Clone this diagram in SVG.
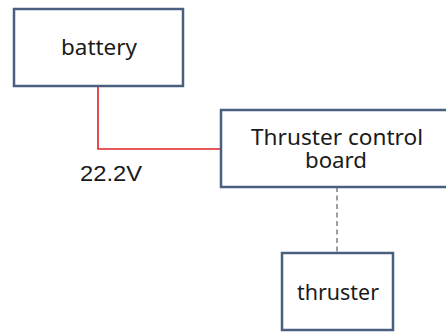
<svg xmlns="http://www.w3.org/2000/svg" width="446" height="335" viewBox="0 0 446 335">
<style>
.box{fill:#ffffff;stroke:#4a5f80;stroke-width:2.5}
.lbl{font-family:"Noto Sans","Open Sans",sans-serif;font-size:22px;fill:#1a1a1a;text-anchor:middle}
.v{font-family:"Liberation Sans",Arial,sans-serif;font-size:22px;fill:#1a1a1a}
</style>
<rect width="446" height="335" fill="#ffffff"/>
<g id="connectors">
<polyline points="98,86 98,149 221,149" fill="none" stroke="#e02424" stroke-width="1.6"/>
<line x1="337" y1="187" x2="337" y2="253" stroke="#7f7f7f" stroke-width="1.5" stroke-dasharray="5,3.5"/>
<text class="v" x="80" y="181" textLength="62" lengthAdjust="spacingAndGlyphs">22.2V</text>
</g>
<g id="battery">
<rect class="box" x="14" y="9" width="169" height="77"/>
<text class="lbl" x="99" y="55" textLength="76" lengthAdjust="spacingAndGlyphs">battery</text>
</g>
<g id="board">
<rect class="box" x="221" y="110" width="240" height="77"/>
<text class="lbl" x="337" y="145" textLength="172" lengthAdjust="spacingAndGlyphs">Thruster control</text>
<text class="lbl" x="336" y="168" textLength="62" lengthAdjust="spacingAndGlyphs">board</text>
</g>
<g id="thruster">
<rect class="box" x="282" y="253" width="111" height="77"/>
<text class="lbl" x="338" y="300" textLength="82" lengthAdjust="spacingAndGlyphs">thruster</text>
</g>
</svg>
